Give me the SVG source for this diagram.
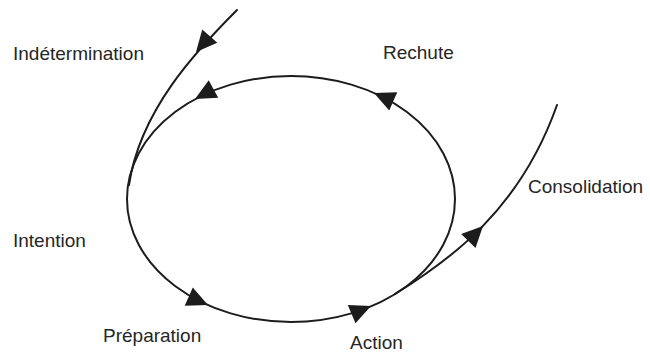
<svg xmlns="http://www.w3.org/2000/svg" width="650" height="354" viewBox="0 0 650 354">
<defs>
<style>
.line{fill:none;stroke:#1c1c1c;stroke-width:2;stroke-linecap:round}
.lbl{font-family:"Liberation Sans",Arial,Helvetica,sans-serif;font-size:19px;fill:#262626}
.head{fill:#1c1c1c}
</style>
<path id="arrow" class="head" d="M0,0 L-21,-10 L-21,10 Z"/>
</defs>
<rect width="650" height="354" fill="#ffffff"/>
<g id="connectors">
<ellipse class="line" cx="291" cy="199" rx="164" ry="123"/>
<path class="line" d="M237,10 C197,50 140,110 129,185"/>
<path class="line" d="M395,294 C450,260 520,210 557,105"/>
<use href="#arrow" transform="translate(196,52) rotate(131)"/>
<use href="#arrow" transform="translate(195,99) rotate(151.6)"/>
<use href="#arrow" transform="translate(374,93) rotate(203.7)"/>
<use href="#arrow" transform="translate(208,305) rotate(23.7)"/>
<use href="#arrow" transform="translate(371,306) rotate(-22.7)"/>
<use href="#arrow" transform="translate(483,226) rotate(-45.8)"/>
</g>
<g id="indetermination"><text class="lbl" x="13" y="60">Indétermination</text></g>
<g id="rechute"><text class="lbl" x="383" y="59">Rechute</text></g>
<g id="consolidation"><text class="lbl" x="528" y="193">Consolidation</text></g>
<g id="intention"><text class="lbl" x="13" y="247">Intention</text></g>
<g id="preparation"><text class="lbl" x="103" y="342">Préparation</text></g>
<g id="action"><text class="lbl" x="350" y="349">Action</text></g>
</svg>
